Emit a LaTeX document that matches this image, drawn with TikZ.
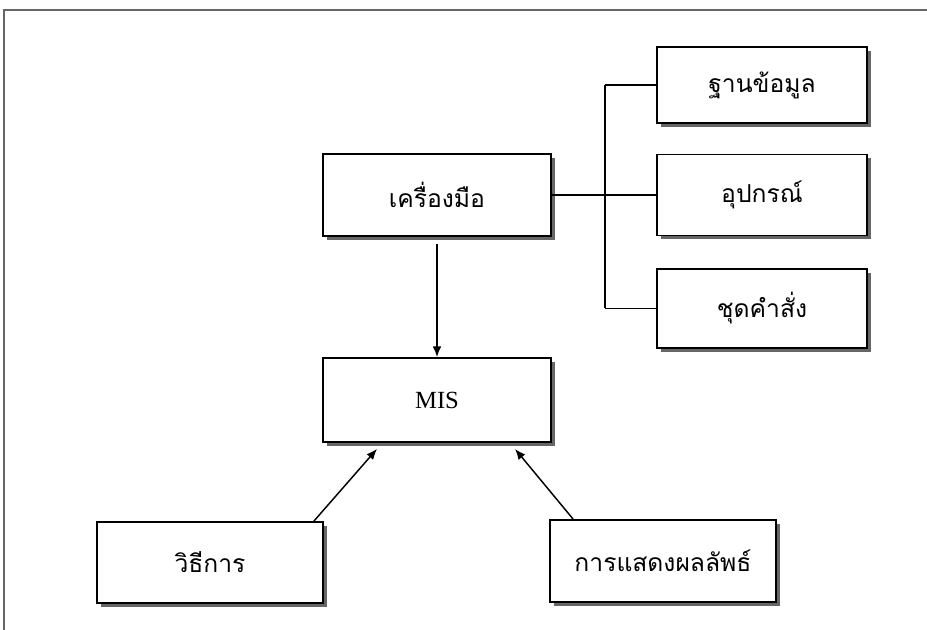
\documentclass[tikz,border=0pt]{standalone}
\usepackage{fontspec}
\setmainfont{Liberation Serif}
\newfontfamily\thaifont[Script=Thai]{Loma}
\usetikzlibrary{shadows,arrows.meta}
\begin{document}
\begin{tikzpicture}[x=0.75pt,y=-0.75pt,
  box/.style={draw=black,line width=1.4pt,fill=white,inner sep=0pt,
    drop shadow={shadow xshift=3pt,shadow yshift=-3pt,fill=gray!80!black,opacity=1},
    font=\thaifont\fontsize{18.5}{22}\selectfont},
  conn/.style={draw=black,line width=1.1pt},
  arr/.style={conn,-{Latex[length=8pt,width=6.5pt]}}]
\useasboundingbox (0,0) rectangle (927,630);
\draw[gray!80!black,line width=1.5pt] (4,630) -- (4,10) -- (927,10);
\node[box,minimum width=157.5pt,minimum height=57pt] (db) at (762,85) {ฐานข้อมูล};
\node[box,minimum width=157.5pt,minimum height=60.75pt] (dev) at (762,195) {อุปกรณ์};
\node[box,minimum width=157.5pt,minimum height=59.25pt] (sw) at (762,308.5) {ชุดคำสั่ง};
\node[box,minimum width=171pt,minimum height=61.5pt] (tool) at (437,195) {เครื่องมือ};
\node[box,minimum width=171pt,minimum height=63pt,font=\fontsize{18.5}{22}\selectfont] (mis) at (437,400) {MIS};
\node[box,minimum width=169.5pt,minimum height=60.75pt] (meth) at (210,562.5) {วิธีการ};
\node[box,minimum width=169.5pt,minimum height=61.5pt] (out) at (663,561) {การแสดงผลลัพธ์};
\coordinate (bt) at (605,85);
\coordinate (bb) at (605,308.5);
\draw[conn] (bt) -- (bb);
\draw[conn] (bt) -- (db.west);
\draw[conn] (bb) -- (sw.west);
\draw[conn] (tool.east) -- (dev.west);
\draw[arr] ([yshift=-5pt]tool.south) -- (mis.north);
\draw[arr] ([xshift=-7.5pt]meth.north east) -- ([xshift=-45pt,yshift=-4.5pt]mis.south);
\draw[arr] ([xshift=18pt]out.north west) -- ([xshift=58.5pt,yshift=-4.5pt]mis.south);
\end{tikzpicture}
\end{document}
